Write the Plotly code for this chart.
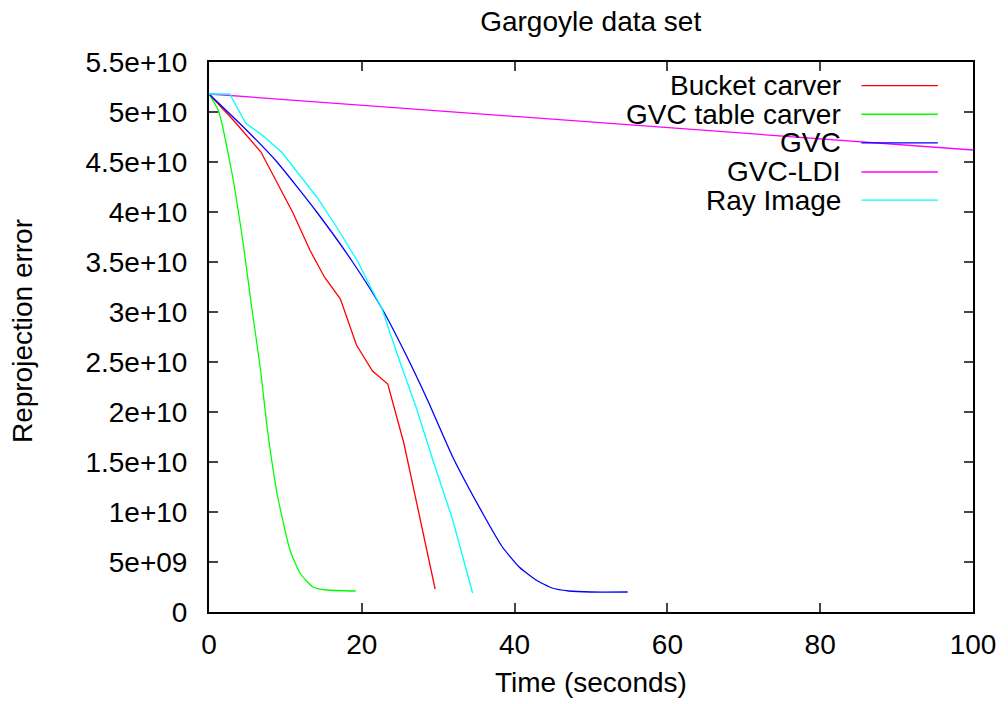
import plotly.graph_objects as go

bucket_x = [0, 3.4, 6.8, 11.0, 13.2, 15.1, 17.2, 19.3, 21.4, 23.4, 25.5, 29.6]
bucket_y = [51.8e9, 49.0e9, 46.0e9, 39.9e9, 36.2e9, 33.5e9, 31.3e9, 26.7e9, 24.1e9, 22.8e9, 16.9e9, 2.3e9]

table_x = [0, 1.2, 3.0, 4.5, 5.6, 6.7, 7.7, 9.0, 10.6, 11.9, 13.6, 15.4, 19.2]
table_y = [51.8e9, 50.2e9, 43.9e9, 36.7e9, 30.4e9, 24.5e9, 17.9e9, 11.5e9, 6.2e9, 3.9e9, 2.5e9, 2.2e9, 2.1e9]

gvc_x = [0, 4.5, 8.9, 14.1, 18.8, 22.6, 25.8, 28.6, 31.9, 35.8, 38.4, 40.6, 42.8, 44.9, 47.1, 50.0, 54.8]
gvc_y = [51.8e9, 48.5e9, 45.0e9, 40.0e9, 35.0e9, 30.4e9, 25.7e9, 21.2e9, 15.5e9, 9.9e9, 6.5e9, 4.5e9, 3.2e9, 2.4e9, 2.1e9, 2.0e9, 2.0e9]

ldi_x = [0, 100]
ldi_y = [51.8e9, 46.2e9]

ray_x = [0, 2.7, 4.8, 7.1, 9.5, 11.9, 14.2, 16.7, 19.5, 21.0, 22.6, 24.9, 27.1, 29.3, 31.9, 34.5]
ray_y = [51.8e9, 51.8e9, 48.9e9, 47.6e9, 46.0e9, 43.7e9, 41.4e9, 38.5e9, 35.0e9, 32.7e9, 30.4e9, 25.2e9, 20.5e9, 15.2e9, 9.2e9, 1.9e9]

names = ["Bucket carver", "GVC table carver", "GVC", "GVC-LDI", "Ray Image"]
colors = ["#ff0000", "#00ff00", "#0000ff", "#ff00ff", "#00ffff"]
shapes_kind = ["linear", "spline", "spline", "linear", "linear"]
series = [(bucket_x, bucket_y), (table_x, table_y), (gvc_x, gvc_y), (ldi_x, ldi_y), (ray_x, ray_y)]

y_tickvals = [0, 5e9, 10e9, 15e9, 20e9, 25e9, 30e9, 35e9, 40e9, 45e9, 50e9, 55e9]
y_ticktext = ["0", "5e+09", "1e+10", "1.5e+10", "2e+10", "2.5e+10", "3e+10", "3.5e+10", "4e+10", "4.5e+10", "5e+10", "5.5e+10"]
x_tickvals = [0, 20, 40, 60, 80, 100]

FONT = "Liberation Sans, Arial, sans-serif"
FS = 28

fig = go.Figure()
for (xs, ys), n, c, k in zip(series, names, colors, shapes_kind):
    line = dict(color=c, width=1.3, shape=k)
    if k == "spline":
        line["smoothing"] = 0.5
    fig.add_trace(go.Scatter(x=xs, y=ys, mode="lines", name=n, line=line, showlegend=False))

# manual gnuplot-style legend (text right-aligned, sample on the right)
row_y = [0.957, 0.905, 0.853, 0.800, 0.749]
annotations = []
shapes = []
for n, c, ry in zip(names, colors, row_y):
    annotations.append(dict(x=0.830, y=ry, xref="paper", yref="paper", text=n,
                            showarrow=False, xanchor="right", yanchor="middle",
                            font=dict(family=FONT, size=FS, color="black")))
    shapes.append(dict(type="line", xref="paper", yref="paper", x0=0.854, x1=0.954,
                       y0=ry, y1=ry, line=dict(color=c, width=1.3)))

# axis titles
annotations.append(dict(x=0.5, y=-0.129, xref="paper", yref="paper", text="Time (seconds)",
                        showarrow=False, xanchor="center", yanchor="middle",
                        font=dict(family=FONT, size=FS, color="black")))
annotations.append(dict(x=-0.244, y=0.51, xref="paper", yref="paper", text="Reprojection error",
                        showarrow=False, xanchor="center", yanchor="middle", textangle=-90,
                        font=dict(family=FONT, size=FS, color="black")))

fig.update_layout(
    width=1008, height=704,
    margin=dict(l=209, r=33, t=62, b=92),
    paper_bgcolor="white", plot_bgcolor="white",
    font=dict(family=FONT, size=FS, color="black"),
    title=dict(text="Gargoyle data set", x=0.586, xanchor="center", y=0.97, yanchor="middle",
               font=dict(family=FONT, size=FS)),
    annotations=annotations, shapes=shapes,
    xaxis=dict(range=[0, 100], tickvals=x_tickvals, ticks="inside", ticklen=9, tickwidth=1.5,
               showline=True, linecolor="black", linewidth=2, mirror="ticks", showgrid=False,
               zeroline=False, tickfont=dict(size=FS), ticklabelstandoff=6),
    yaxis=dict(range=[0, 55e9], tickvals=y_tickvals, ticktext=y_ticktext, ticks="inside",
               ticklen=9, tickwidth=1.5, showline=True, linecolor="black", linewidth=2,
               mirror="ticks", showgrid=False, zeroline=False,
               tickfont=dict(size=FS), ticklabelstandoff=14),
)

fig.write_html("out.html")
